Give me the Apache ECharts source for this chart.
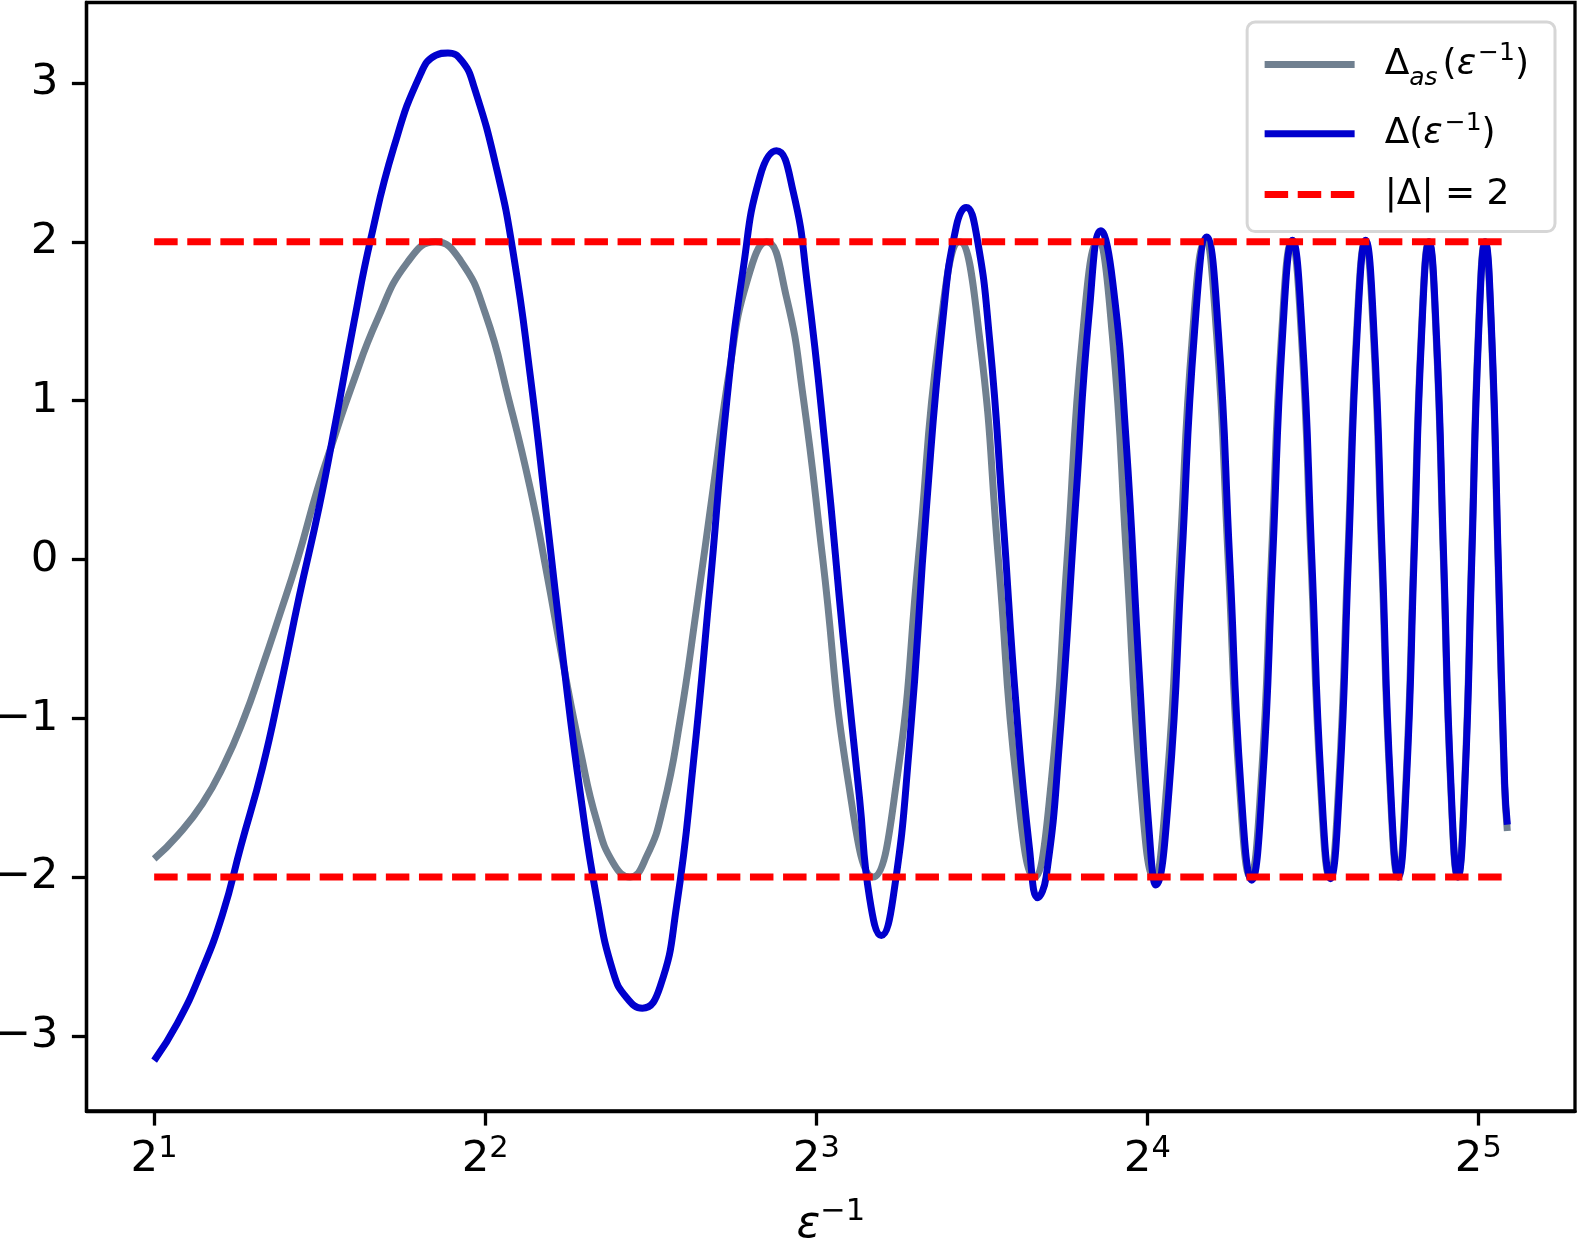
<!DOCTYPE html>
<html>
<head>
<meta charset="utf-8">
<script src="https://cdn.jsdelivr.net/npm/echarts@6/dist/echarts.min.js"></script>
<style>
html,body{margin:0;padding:0;background:#fff;}
#chart{width:1577px;height:1238px;}
</style>
</head>
<body>
<div id="chart"></div>
<script>
// ---- data ----
// asymptotic curve Δ_as(ε^-1): [ε^-1, value]
const asymptoticPoints = [
  [2.0,-1.886],[2.1,-1.739],[2.213,-1.537],[2.316,-1.29],[2.415,-0.997],[2.5,-0.705],
  [2.599,-0.356],[2.70,0.0],[2.815,0.442],[2.92,0.78],[3.018,1.072],[3.191,1.51],[3.398,1.87],
  [3.605,2.0],[3.8,1.88],[4.003,1.544],[4.204,1.004],[4.395,0.448],[4.55,-0.086],
  [4.712,-0.665],[4.88,-1.2],[5.052,-1.646],[5.231,-1.913],[5.416,-2.0],[5.61,-1.868],
  [5.808,-1.556],[6.013,-1.02],[6.226,-0.309],[6.447,0.448],[6.676,1.206],[6.913,1.74],
  [7.21,2.0],[7.516,1.651],[7.782,1.028],[8.11,0.0],[8.56,-1.41],[9.01,-2.0],
  [9.46,-1.41],[9.905,0.0],[10.35,1.41],[10.80,2.0],[11.255,1.41],[11.715,0.0],
  [12.17,-1.41],[12.63,-2.0],[13.08,-1.41],[13.525,0.0],[13.97,1.41],[14.42,2.0],
  [14.87,1.41],[15.32,0.0],[15.77,-1.41],[16.22,-2.0],[16.67,-1.41],[17.12,0.0],
  [17.585,1.41],[18.05,2.0],[18.5,1.41],[18.95,0.0],[19.4,-1.41],[19.85,-2.0],
  [20.3,-1.41],[20.745,0.0],[21.19,1.41],[21.64,2.0],[22.09,1.41],[22.54,0.0],
  [22.99,-1.41],[23.44,-2.0],[23.89,-1.41],[24.34,0.0],[24.79,1.41],[25.24,2.0],
  [25.69,1.41],[26.14,0.0],[26.59,-1.41],[27.04,-2.0],[27.49,-1.41],[27.94,0.0],
  [28.39,1.41],[28.84,2.0],[29.29,1.41],[29.74,0.0],[30.19,-1.41],[30.64,-2.0],
  [31.09,-1.41],[31.54,0.0],[31.99,1.41],[32.44,2.0],[32.89,1.41],[33.34,0.0],
  [33.79,-1.41],[34.0,-1.71]
];
// exact curve Δ(ε^-1): [ε^-1, value]
const exactPoints = [
  [2.0,-3.156],[2.1,-2.92],[2.205,-2.605],[2.308,-2.234],[2.398,-1.807],[2.509,-1.312],
  [2.607,-0.795],[2.71,-0.232],[2.825,0.33],[2.925,0.87],[3.04,1.499],[3.147,2.016],
  [3.305,2.60],[3.494,3.058],[3.605,3.174],[3.70,3.19],[3.812,3.136],[3.906,2.98],
  [4.099,2.453],[4.244,1.919],[4.395,1.161],[4.55,0.27],[4.712,-0.643],[4.88,-1.468],
  [5.052,-2.135],[5.231,-2.603],[5.379,-2.76],[5.558,-2.826],[5.768,-2.692],[5.972,-2.18],
  [6.183,-1.289],[6.403,-0.176],[6.63,0.983],[6.865,1.83],[7.11,2.41],[7.36,2.573],
  [7.62,2.32],[7.85,1.74],[8.172,0.627],[8.461,-0.487],[8.761,-1.512],[8.946,-2.135],
  [9.168,-2.368],[9.394,-2.135],[9.727,-1.156],[10.073,0.315],[10.43,1.517],[10.725,2.097],
  [10.952,2.217],[11.184,2.052],[11.5,1.384],[11.825,0.27],[12.16,-0.933],[12.503,-1.824],
  [12.722,-2.13],[12.945,-2.0],[13.31,-1.156],[13.785,0.404],[14.17,1.562],[14.52,2.07],
  [14.88,1.75],[15.3,0.76],[15.73,-0.71],[16.07,-1.734],[16.29,-2.05],[16.745,-1.45],
  [17.2,0.0],[17.66,1.43],[18.12,2.03],[18.565,1.43],[19.01,0.0],[19.46,-1.43],
  [19.91,-2.02],[20.355,-1.43],[20.8,0.0],[21.24,1.42],[21.68,2.01],[22.13,1.42],
  [22.58,0.0],[23.03,-1.42],[23.48,-2.01],[23.93,-1.42],[24.375,0.0],[24.82,1.42],
  [25.27,2.01],[25.72,1.42],[26.17,0.0],[26.62,-1.42],[27.07,-2.0],[27.52,-1.41],
  [27.965,0.0],[28.41,1.41],[28.86,2.0],[29.31,1.41],[29.76,0.0],[30.21,-1.41],
  [30.66,-2.0],[31.11,-1.41],[31.56,0.0],[32.01,1.41],[32.46,2.0],[32.91,1.41],
  [33.36,0.0],[33.81,-1.41],[34.0,-1.67]
];
const levelSpan = [2, 34];          // x extent of the |Δ| = 2 lines
const levelValues = [2, -2];
const xTickValues = [2, 4, 8, 16, 32];
const yTickValues = [-3, -2, -1, 0, 1, 2, 3];
const seriesNames = ['Δas(ε-1)', 'Δ(ε-1)', '|Δ| = 2'];

// ---- chart ----
const FONT = 'DejaVu Sans';
const log2 = v => Math.log(v) / Math.LN2;
const xs = exactPoints.map(p => p[0]);
const xLo = Math.min(...xs), xHi = Math.max(...xs);
const xPad = 0.05 * (log2(xHi) - log2(xLo));
const xMin = Math.pow(2, log2(xLo) - xPad);
const xMax = Math.pow(2, log2(xHi) + xPad);
const ys = exactPoints.map(p => p[1]);
const yLo = Math.min(...ys), yHi = Math.max(...ys);
const yPad = 0.05 * (yHi - yLo);

const legendLabels = {};
legendLabels[seriesNames[0]] = '{d0|Δ}{sub|as}{n|(}{i|ε}{sup|\u22121}{n|)}';
legendLabels[seriesNames[1]] = '{d0|Δ}{n|(}{i|ε}{sup|\u22121}{n|)}';
legendLabels[seriesNames[2]] = '{d0||Δ| = 2}';

const dash = [23.5, 9.6];
const LW = 7;
const LFS = 36;   // legend font size
const LSS = 25;   // legend sub/superscript size
const axisLineStyle = {color: '#000', width: 3.3};

const chart = echarts.init(document.getElementById('chart'), null, {renderer: 'canvas'});
chart.setOption({
  animation: false,
  backgroundColor: '#ffffff',
  textStyle: {fontFamily: FONT, color: '#000'},
  grid: {
    left: 86.5, right: 2, top: 2.5, bottom: 127,
    show: true, borderColor: '#000', borderWidth: 3.3, backgroundColor: '#fff',
    containLabel: false, outerBoundsMode: 'none'
  },
  legend: {
    data: seriesNames,
    orient: 'vertical', right: 22, top: 22,
    padding: [16, 26, 19, 14],
    itemWidth: 90, itemHeight: 44, itemGap: 19.5,
    backgroundColor: 'rgba(255,255,255,0.8)',
    borderColor: '#d6d6d6', borderWidth: 3, borderRadius: 8,
    selectedMode: false,
    itemStyle: {opacity: 0},
    lineStyle: {width: LW},
    formatter: name => legendLabels[name],
    textStyle: {
      fontFamily: FONT, fontSize: LFS, color: '#000',
      rich: {
        d0: {fontFamily: FONT, fontSize: LFS, lineHeight: 44, padding: [0, 0, 0, 25], color: '#000'},
        n: {fontFamily: FONT, fontSize: LFS, lineHeight: 44, color: '#000'},
        i: {fontFamily: FONT, fontSize: LFS, lineHeight: 44, fontStyle: 'italic', color: '#000'},
        sub: {fontFamily: FONT, fontSize: LSS, lineHeight: 44, fontStyle: 'italic', padding: [28, 5, 0, 0], color: '#000'},
        sup: {fontFamily: FONT, fontSize: LSS, lineHeight: 44, padding: [0, 0, 21.6, 2], color: '#000'}
      }
    }
  },
  xAxis: {
    type: 'log', logBase: 2, min: xMin, max: xMax,
    axisLine: {show: true, onZero: false, lineStyle: axisLineStyle},
    splitLine: {show: false},
    minorTick: {show: false},
    axisTick: {show: true, inside: false, length: 14.6, lineStyle: {color: '#000', width: 3.3}, customValues: xTickValues},
    axisLabel: {
      customValues: xTickValues,
      margin: 24,
      formatter: v => '{b|2}{s|' + Math.round(log2(v)) + '}',
      rich: {
        b: {fontFamily: FONT, fontSize: 43.5, lineHeight: 50, color: '#000'},
        s: {fontFamily: FONT, fontSize: 30.5, lineHeight: 50, padding: [0, 0, 21, 0], color: '#000'}
      }
    },
    name: '{e|ε}{s|\u22121}',
    nameLocation: 'middle', nameGap: 90,
    nameTextStyle: {
      rich: {
        e: {fontFamily: FONT, fontSize: 44, lineHeight: 50, fontStyle: 'italic', color: '#000'},
        s: {fontFamily: FONT, fontSize: 30.5, lineHeight: 50, padding: [0, 0, 28, 0], color: '#000'}
      }
    }
  },
  yAxis: {
    type: 'value', min: yLo - yPad, max: yHi + yPad,
    axisLine: {show: true, onZero: false, lineStyle: axisLineStyle},
    splitLine: {show: false},
    axisTick: {show: true, inside: false, length: 14.6, lineStyle: {color: '#000', width: 3.3}, customValues: yTickValues},
    axisLabel: {
      customValues: yTickValues,
      margin: 28,
      fontFamily: FONT, fontSize: 43.5, color: '#000',
      formatter: v => (v < 0 ? '\u2212' + Math.abs(v) : String(v))
    }
  },
  series: [
    {
      name: seriesNames[0], type: 'line', data: asymptoticPoints,
      symbol: 'none', smooth: 0.5, silent: true, z: 2,
      itemStyle: {color: '#708090'},
      lineStyle: {color: '#708090', width: LW, join: 'round'}
    },
    {
      name: seriesNames[1], type: 'line', data: exactPoints,
      symbol: 'none', smooth: 0.5, silent: true, z: 3,
      itemStyle: {color: '#0000cd'},
      lineStyle: {color: '#0000cd', width: LW, join: 'round'}
    },
    {
      name: seriesNames[2], type: 'line',
      data: levelSpan.map(x => [x, levelValues[0]]),
      symbol: 'none', silent: true, z: 4,
      itemStyle: {color: '#ff0000'},
      lineStyle: {color: '#ff0000', width: LW, type: dash, cap: 'butt'}
    },
    {
      name: seriesNames[2], type: 'line',
      data: levelSpan.map(x => [x, levelValues[1]]),
      symbol: 'none', silent: true, z: 4,
      itemStyle: {color: '#ff0000'},
      lineStyle: {color: '#ff0000', width: LW, type: dash, cap: 'butt'}
    }
  ]
});
</script>
</body>
</html>
